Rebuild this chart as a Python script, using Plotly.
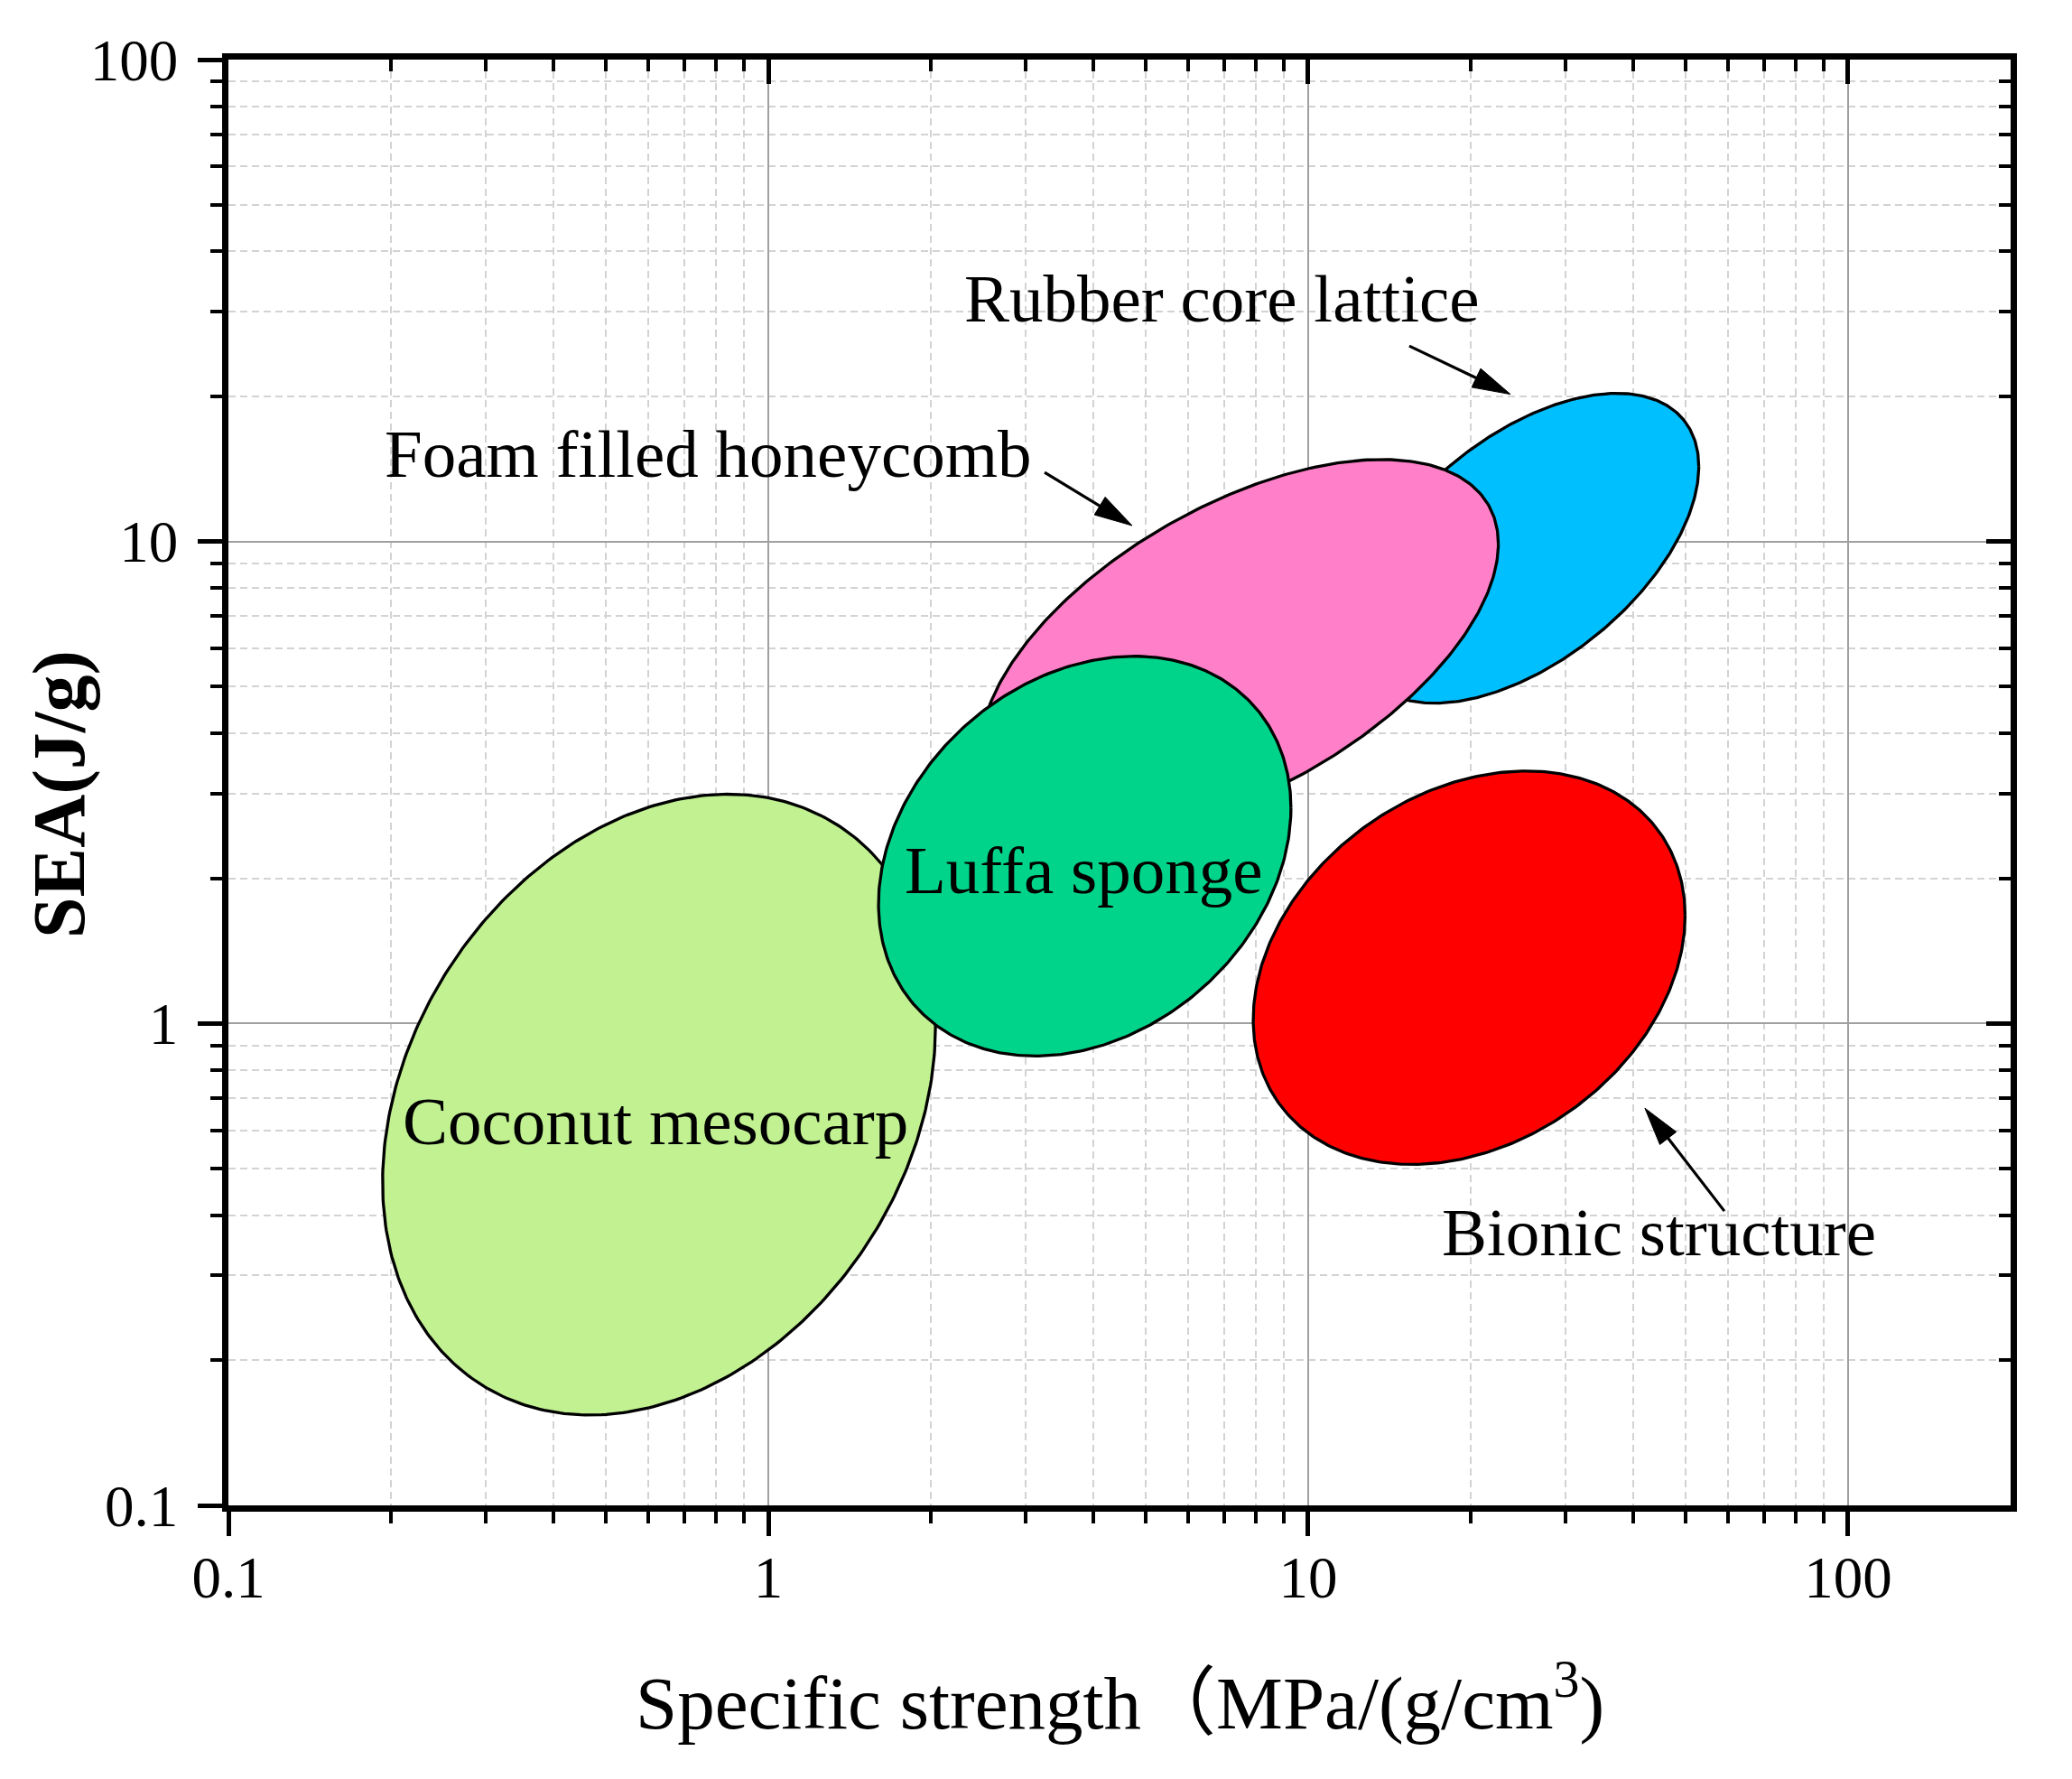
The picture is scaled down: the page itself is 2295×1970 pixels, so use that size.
import numpy as np
import plotly.graph_objects as go

# ---------------- data ----------------
MATERIALS = ["Coconut mesocarp", "Rubber core lattice", "Foam filled honeycomb",
             "Luffa sponge", "Bionic structure"]
# specific strength range, MPa/(g/cm3)
STRENGTH_MIN = [0.193, 12.1, 2.47, 1.60, 7.91]
STRENGTH_MAX = [2.04, 52.9, 22.5, 9.29, 49.9]
# SEA range, J/g
SEA_MIN = [0.154, 4.62, 2.46, 0.856, 0.510]
SEA_MAX = [2.99, 20.3, 14.8, 5.78, 3.34]
# tilt of each region (correlation of the ellipse in log-log space)
TILT = [0.25, 0.527, 0.55, 0.24, 0.265]

X_TICKS = [0.1, 1, 10, 100]
X_TICK_LABELS = ["0.1", "1", "10", "100"]
Y_TICKS = [0.1, 1, 10, 100]
Y_TICK_LABELS = ["0.1", "1", "10", "100"]
X_RANGE = [0.1, 200]
Y_RANGE = [0.1, 100]

X_TITLE = "Specific strength\uff08MPa/(g/cm<sup>3</sup>)"
Y_TITLE = "<b>SEA(J/g)</b>"

# ---------------- styling / layout ----------------
FILLS = ["#C1F191", "#00BFFF", "#FF80C8", "#00D48A", "#FF0000"]
FONT = "Liberation Serif, Times New Roman, Noto Sans CJK SC, serif"

# label positions (log10 of x, log10 of y) -> annotation coords on log axes
LABEL_POS = {
    "Coconut mesocarp": (-0.209, -0.203),
    "Rubber core lattice": (0.8395, 1.505),
    "Foam filled honeycomb": (-0.111, 1.183),
    "Luffa sponge": (0.583, 0.318),
    "Bionic structure": (1.650, -0.434),
}
# arrows: (label, start, tip) in data values
ARROWS = [
    ("Rubber core lattice", (15.39, 25.46), (23.69, 20.21)),
    ("Foam filled honeycomb", (3.249, 13.92), (4.72, 10.79)),
    ("Bionic structure", (59.0, 0.408), (42.04, 0.667)),
]

W, H = 2295, 1970
ML, MR, MT, MB = 253, 68, 66, 303
PX_DEC_X = (W - ML - MR) / (np.log10(X_RANGE[1]) - np.log10(X_RANGE[0]))
PX_DEC_Y = (H - MT - MB) / (np.log10(Y_RANGE[1]) - np.log10(Y_RANGE[0]))


def ellipse(xmin, xmax, ymin, ymax, rho, n=400):
    lx0, lx1 = np.log10(xmin), np.log10(xmax)
    ly0, ly1 = np.log10(ymin), np.log10(ymax)
    cx, cy = (lx0 + lx1) / 2, (ly0 + ly1) / 2
    hx, hy = (lx1 - lx0) / 2, (ly1 - ly0) / 2
    t = np.linspace(0, 2 * np.pi, n)
    lx = cx + hx * np.cos(t)
    ly = cy + hy * (rho * np.cos(t) + np.sqrt(1 - rho ** 2) * np.sin(t))
    return 10 ** lx, 10 ** ly


def arrow_shapes(start, tip, head_len=42.0, head_w=23.0):
    s = np.array([np.log10(start[0]) * PX_DEC_X, np.log10(start[1]) * PX_DEC_Y])
    e = np.array([np.log10(tip[0]) * PX_DEC_X, np.log10(tip[1]) * PX_DEC_Y])
    d = e - s
    u = d / np.linalg.norm(d)
    nv = np.array([-u[1], u[0]])
    base = e - u * head_len
    p1 = base + nv * head_w / 2
    p2 = base - nv * head_w / 2
    line_end = base + u * 4

    def back(p):
        return 10 ** (p[0] / PX_DEC_X), 10 ** (p[1] / PX_DEC_Y)

    lx, ly = zip(back(s), back(line_end))
    tx, ty = zip(back(e), back(p1), back(p2), back(e))
    return (list(lx), list(ly)), (list(tx), list(ty))


fig = go.Figure()

for name, x0, x1, y0, y1, r, col in zip(MATERIALS, STRENGTH_MIN, STRENGTH_MAX,
                                        SEA_MIN, SEA_MAX, TILT, FILLS):
    ex, ey = ellipse(x0, x1, y0, y1, r)
    fig.add_trace(go.Scatter(x=ex, y=ey, mode="lines", fill="toself",
                             fillcolor=col, line=dict(color="black", width=3.3),
                             name=name, showlegend=False, hoverinfo="name"))

for name, start, tip in ARROWS:
    (lx, ly), (tx, ty) = arrow_shapes(start, tip)
    fig.add_trace(go.Scatter(x=lx, y=ly, mode="lines",
                             line=dict(color="black", width=3.2),
                             showlegend=False, hoverinfo="skip"))
    fig.add_trace(go.Scatter(x=tx, y=ty, mode="lines", fill="toself",
                             fillcolor="black", line=dict(color="black", width=1),
                             showlegend=False, hoverinfo="skip"))

# invisible trace for the mirrored (inside-tick) axes
fig.add_trace(go.Scatter(x=[1], y=[1], xaxis="x2", yaxis="y2", mode="markers",
                         marker=dict(opacity=0), showlegend=False, hoverinfo="skip"))

minor_x = [k * 10.0 ** e for e in (-1, 0, 1, 2) for k in range(2, 10)
           if k * 10.0 ** e < X_RANGE[1]]
minor_y = [k * 10.0 ** e for e in (-1, 0, 1) for k in range(2, 10)]

xr = [np.log10(X_RANGE[0]), np.log10(X_RANGE[1])]
yr = [np.log10(Y_RANGE[0]), np.log10(Y_RANGE[1])]

tickfont = dict(family=FONT, size=65, color="black")

common = dict(type="log", ticks="outside", ticklen=27, tickwidth=5,
              tickcolor="black", showline=True, linewidth=6.5, linecolor="black",
              mirror=True, showgrid=True, gridcolor="#A0A0A0", gridwidth=2,
              zeroline=False, tickfont=tickfont, tickmode="array")

fig.update_layout(
    width=W, height=H,
    margin=dict(l=ML, r=MR, t=MT, b=MB),
    paper_bgcolor="white", plot_bgcolor="white",
    xaxis=dict(range=xr, tickvals=X_TICKS, ticktext=X_TICK_LABELS,
               ticklabelstandoff=-10,
               minor=dict(tickmode="array", tickvals=minor_x, ticks="outside",
                          ticklen=13, tickwidth=4, tickcolor="black",
                          showgrid=True, gridcolor="#D3D3D3", gridwidth=2,
                          griddash="8px,5px"),
               **common),
    yaxis=dict(range=yr, tickvals=Y_TICKS, ticktext=Y_TICK_LABELS,
               ticklabelstandoff=9,
               minor=dict(tickmode="array", tickvals=minor_y, ticks="outside",
                          ticklen=13, tickwidth=4, tickcolor="black",
                          showgrid=True, gridcolor="#D3D3D3", gridwidth=2,
                          griddash="8px,5px"),
               **common),
    xaxis2=dict(type="log", overlaying="x", side="top", anchor="y", range=xr,
                tickmode="array", tickvals=X_TICKS, ticks="inside", ticklen=27,
                tickwidth=5, tickcolor="black", showticklabels=False,
                showgrid=False, showline=False, zeroline=False,
                minor=dict(tickmode="array", tickvals=minor_x, ticks="inside",
                           ticklen=13, tickwidth=4, tickcolor="black",
                           showgrid=False)),
    yaxis2=dict(type="log", overlaying="y", side="right", anchor="x", range=yr,
                tickmode="array", tickvals=Y_TICKS, ticks="inside", ticklen=27,
                tickwidth=5, tickcolor="black", showticklabels=False,
                showgrid=False, showline=False, zeroline=False,
                minor=dict(tickmode="array", tickvals=minor_y, ticks="inside",
                           ticklen=13, tickwidth=4, tickcolor="black",
                           showgrid=False)),
    showlegend=False,
)

annotations = []
for name in MATERIALS:
    lx, ly = LABEL_POS[name]
    annotations.append(dict(x=lx, y=ly, xref="x", yref="y", text=name,
                            showarrow=False, xanchor="center", yanchor="middle",
                            font=dict(family=FONT, size=75, color="black")))

annotations.append(dict(x=0.5, y=(H - MB - 1879) / (H - MT - MB), xref="paper",
                        yref="paper", text=X_TITLE, showarrow=False,
                        xanchor="center", yanchor="middle",
                        font=dict(family=FONT, size=83, color="black")))
annotations.append(dict(x=(66 - ML) / (W - ML - MR), y=(H - MB - 880) / (H - MT - MB),
                        xref="paper", yref="paper", text=Y_TITLE, showarrow=False,
                        textangle=-90, xanchor="center", yanchor="middle",
                        font=dict(family=FONT, size=82, color="black")))
fig.update_layout(annotations=annotations)

fig.write_html("out.html",
               config={"displayModeBar": False},
               post_script="document.body.style.margin='0px';"
                           "document.documentElement.style.overflow='hidden';")
